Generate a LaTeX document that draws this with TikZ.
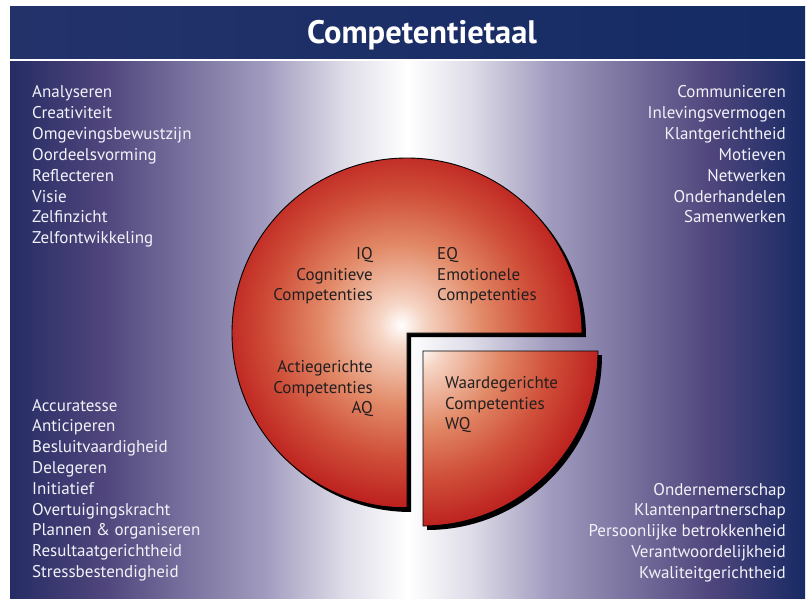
\documentclass[tikz,border=0pt]{standalone}
\usepackage{fontspec}
\setmainfont{PT Sans}
\begin{document}
\definecolor{bgL}{RGB}{38,44,100}
\definecolor{bgR}{RGB}{24,42,100}
\definecolor{bgA}{RGB}{80,70,125}
\definecolor{bgB}{RGB}{160,155,190}
\definecolor{bgC}{RGB}{222,220,232}
\definecolor{titL}{RGB}{36,50,106}
\definecolor{titR}{RGB}{20,43,100}
\definecolor{pieA}{RGB}{246,214,198}
\definecolor{pieB}{RGB}{226,138,104}
\definecolor{pieC}{RGB}{208,80,58}
\definecolor{pieD}{RGB}{188,32,30}
\definecolor{txtW}{RGB}{242,242,248}
\definecolor{txtD}{RGB}{35,31,32}
\pgfdeclarehorizontalshading{bgshade}{100bp}{color(0bp)=(bgL); color(25bp)=(bgL); color(31bp)=(bgA); color(41bp)=(bgB); color(46bp)=(bgC); color(50bp)=(white); color(54bp)=(bgC); color(59bp)=(bgB); color(69bp)=(bgA); color(75bp)=(bgR); color(100bp)=(bgR)}
\pgfdeclareradialshading{pieshade}{\pgfpoint{0bp}{0bp}}{color(0bp)=(white); color(3bp)=(pieA); color(11bp)=(pieB); color(18bp)=(pieC); color(25bp)=(pieD); color(50bp)=(pieD)}
\begin{tikzpicture}[x=1pt,y=-1pt,
  lt/.style={text=txtW, font=\fontsize{17}{20}\selectfont, inner sep=0pt},
  pt/.style={text=txtD, font=\fontsize{17}{20}\selectfont, inner sep=0pt},
  shadowfill/.style={fill=black},
  pieedge/.style={draw=black, line width=0.9pt}]
\useasboundingbox (0,0) rectangle (808,599);
\fill[white] (0,0) rectangle (808,599);
% title bar
\shade[left color=titL, right color=titR] (10,7) rectangle (805,59);
\node[text=white, font=\fontsize{32.5}{36}\selectfont\bfseries, inner sep=0pt, anchor=base] (title) at (422,44) {Competentietaal};
% panel
\shade[shading=bgshade] (10,62) rectangle (805,598);
% main pie shadow
\coordinate (c) at (407,333);
\coordinate (w) at (423,351);
\fill[shadowfill] ([shift={(4,4)}]c) -- ++(175,0) arc[start angle=0, end angle=-270, radius=175] -- cycle;
\begin{scope}
  \clip (c) -- ++(175,0) arc[start angle=0, end angle=-270, radius=175] -- cycle;
  \shade[shading=pieshade] ([shift={(-6,-8)}]c) circle (182);
\end{scope}
\draw[pieedge] (c) -- ++(175,0) arc[start angle=0, end angle=-270, radius=175] -- cycle;
% WQ piece
\fill[shadowfill] ([shift={(4,4)}]w) -- ++(175,0) arc[start angle=0, end angle=90, radius=175] -- cycle;
\begin{scope}
  \clip (w) -- ++(175,0) arc[start angle=0, end angle=90, radius=175] -- cycle;
  \shade[shading=pieshade] ([shift={(-4,-4)}]w) circle (182);
\end{scope}
\draw[pieedge] (w) -- ++(175,0) arc[start angle=0, end angle=90, radius=175] -- cycle;
% pie texts
\node[pt, anchor=base east] (iq1) at (373,259.5) {IQ};
\node[pt, anchor=base east] (iq2) at (373,280.2) {Cognitieve};
\node[pt, anchor=base east] (iq3) at (373,300.9) {Competenties};
\node[pt, anchor=base west] (eq1) at (437,259.5) {EQ};
\node[pt, anchor=base west] (eq2) at (437,280.2) {Emotionele};
\node[pt, anchor=base west] (eq3) at (437,300.9) {Competenties};
\node[pt, anchor=base east] (aq1) at (373,372.5) {Actiegerichte};
\node[pt, anchor=base east] (aq2) at (373,393.2) {Competenties};
\node[pt, anchor=base east] (aq3) at (373,413.9) {AQ};
\node[pt, anchor=base west] (wq1) at (445,388.5) {Waardegerichte};
\node[pt, anchor=base west] (wq2) at (445,409.2) {Competenties};
\node[pt, anchor=base west] (wq3) at (445,429.9) {WQ};
% lists
\foreach \t [count=\i] in {Analyseren,Creativiteit,Omgevingsbewustzijn,Oordeelsvorming,Reflecteren,Visie,Zelfinzicht,Zelfontwikkeling}
  \node[lt, anchor=base west] (tl\i) at (32,{98+20.8*(\i-1)}) {\t};
\foreach \t [count=\i] in {Communiceren,Inlevingsvermogen,Klantgerichtheid,Motieven,Netwerken,Onderhandelen,Samenwerken}
  \node[lt, anchor=base east] (tr\i) at (786,{98+20.8*(\i-1)}) {\t};
\foreach \t [count=\i] in {Accuratesse,Anticiperen,Besluitvaardigheid,Delegeren,Initiatief,Overtuigingskracht,Plannen \& organiseren,Resultaatgerichtheid,Stressbestendigheid}
  \node[lt, anchor=base west] (bl\i) at (32,{411+20.8*(\i-1)}) {\t};
\foreach \t [count=\i] in {Ondernemerschap,Klantenpartnerschap,Persoonlijke betrokkenheid,Verantwoordelijkheid,Kwaliteitgerichtheid}
  \node[lt, anchor=base east] (br\i) at (786,{495+20.8*(\i-1)}) {\t};
\end{tikzpicture}
\end{document}
